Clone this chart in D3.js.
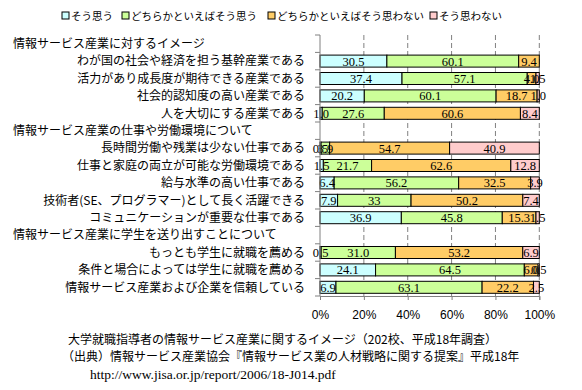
<!DOCTYPE html>
<html>
<head>
<meta charset="utf-8">
<script src="https://cdn.jsdelivr.net/npm/d3@7"></script>
<style>
  body { margin: 0; background: #fff; }
  text { font-family: "Noto Sans CJK JP", sans-serif; }
</style>
</head>
<body>
<div id="chart-container"></div>
<script>
// Categories (header rows have no values)
const categories = [
    "情報サービス産業に対するイメージ",
    "わが国の社会や経済を担う基幹産業である",
    "活力があり成長度が期待できる産業である",
    "社会的認知度の高い産業である",
    "人を大切にする産業である",
    "情報サービス産業の仕事や労働環境について",
    "長時間労働や残業は少ない仕事である",
    "仕事と家庭の両立が可能な労働環境である",
    "給与水準の高い仕事である",
    "技術者(SE、プログラマー)として長く活躍できる",
    "コミュニケーションが重要な仕事である",
    "情報サービス産業に学生を送り出すことについて",
    "もっとも学生に就職を薦める",
    "条件と場合によっては学生に就職を薦める",
    "情報サービス産業および企業を信頼している"
];
const headers = [0, 5, 11];

const seriesNames = ["そう思う", "どちらかといえばそう思う", "どちらかといえばそう思わない", "そう思わない"];
const colors = ["#CCFFFF", "#CCFF99", "#FFCC66", "#FFCCCC"];

// Values as printed on the picture (strings keep the printed format)
const agree       = [null, "30.5", "37.4", "20.2", "1.0", null, "0.5", "1.5", "6.4", "7.9", "36.9", null, "0.5", "24.1", "6.9"];
const ratherAgree = [null, "60.1", "57.1", "60.1", "27.6", null, "3.9", "21.7", "56.2", "33", "45.8", null, "31.0", "64.5", "63.1"];
const ratherNot   = [null, "9.4", "4.0", "18.7", "60.6", null, "54.7", "62.6", "32.5", "50.2", "15.3", null, "53.2", "6.0", "22.2"];
const disagree    = [null, "0", "1.5", "1.0", "8.4", null, "40.9", "12.8", "3.9", "7.4", "1.5", null, "6.9", "0.5", "2.5"];

const xTicks = [0, 0.2, 0.4, 0.6, 0.8, 1];

const width = 582, height = 390;
const plot = { left: 320, right: 539.3, top: 35, bottom: 296 };

const svg = d3.select("#chart-container")
    .append("svg")
    .attr("width", width)
    .attr("height", height);

// Table for stacking
const allSeries = [agree, ratherAgree, ratherNot, disagree];
const table = categories.map((c, i) => {
    const row = { cat: c };
    seriesNames.forEach((k, j) => { row[k] = allSeries[j][i] == null ? 0 : +allSeries[j][i]; row[k + "_t"] = allSeries[j][i]; });
    return row;
});

const stack = d3.stack().keys(seriesNames).offset(d3.stackOffsetExpand);
const stacked = stack(table);

const xScale = d3.scaleLinear().domain([0, 1]).range([plot.left, plot.right]);
const yScale = d3.scaleBand()
    .domain(categories)
    .range([plot.top, plot.bottom])
    .paddingInner(0.31)
    .paddingOuter(0.155);
const step = yScale.step();

// Dashed gridlines
svg.append("g")
    .selectAll("line")
    .data(xTicks.slice(1))
    .enter().append("line")
    .attr("x1", d => xScale(d))
    .attr("x2", d => xScale(d))
    .attr("y1", plot.top)
    .attr("y2", plot.bottom)
    .attr("stroke", "#808080")
    .attr("stroke-dasharray", "5,3");

// Bars
const layers = svg.append("g")
    .selectAll("g")
    .data(stacked)
    .enter().append("g")
    .attr("fill", (d, i) => colors[i]);

layers.selectAll("rect")
    .data(d => d.filter((p, i) => !headers.includes(i) && p[1] - p[0] > 0))
    .enter().append("rect")
    .attr("x", d => xScale(d[0]))
    .attr("y", d => yScale(d.data.cat))
    .attr("width", d => xScale(d[1]) - xScale(d[0]))
    .attr("height", yScale.bandwidth())
    .attr("stroke", "#000")
    .attr("stroke-width", 1);

// Value labels
stacked.forEach(layer => {
    svg.append("g")
        .selectAll("text")
        .data(layer.filter((p, i) => !headers.includes(i) && p[1] - p[0] > 0))
        .enter().append("text")
        .attr("x", d => xScale((d[0] + d[1]) / 2))
        .attr("y", d => yScale(d.data.cat) + yScale.bandwidth() / 2)
        .attr("dy", "0.36em")
        .attr("text-anchor", "middle")
        .style("font-family", "'Liberation Serif', serif")
        .style("font-size", "12.5px")
        .text(d => d.data[layer.key + "_t"]);
});

// Category axis (left)
const yAxis = svg.append("g").attr("stroke", "#808080");
yAxis.append("line")
    .attr("x1", plot.left).attr("x2", plot.left)
    .attr("y1", plot.top).attr("y2", plot.bottom);
yAxis.selectAll(".tk")
    .data(d3.range(categories.length + 1))
    .enter().append("line")
    .attr("x1", plot.left - 5).attr("x2", plot.left)
    .attr("y1", i => plot.top + i * step)
    .attr("y2", i => plot.top + i * step);

// Category labels
svg.append("g")
    .selectAll("text")
    .data(categories)
    .enter().append("text")
    .attr("x", (d, i) => headers.includes(i) ? 13 : 305)
    .attr("y", d => yScale(d) + yScale.bandwidth() / 2)
    .attr("dy", "0.36em")
    .attr("text-anchor", (d, i) => headers.includes(i) ? "start" : "end")
    .style("font-size", "12px")
    .text(d => d);

// Value axis (bottom)
const xAxis = d3.axisBottom(xScale)
    .tickValues(xTicks)
    .tickSize(4)
    .tickFormat(d3.format(".0%"));

const gx = svg.append("g")
    .attr("transform", `translate(0,${plot.bottom})`)
    .call(xAxis);
gx.select(".domain").attr("stroke", "#808080");
gx.selectAll(".tick line").attr("stroke", "#808080");
gx.selectAll(".tick text")
    .attr("y", 14)
    .style("font-family", "'Liberation Sans', sans-serif")
    .style("font-size", "12px")
    .attr("fill", "#000");

// Legend
const legendX = [62, 122, 268, 430];
const legend = svg.append("g")
    .selectAll("g")
    .data(seriesNames)
    .enter().append("g")
    .attr("transform", (d, i) => `translate(${legendX[i]},16)`);
legend.append("rect")
    .attr("x", 0).attr("y", -4)
    .attr("width", 7).attr("height", 7)
    .attr("fill", (d, i) => colors[i])
    .attr("stroke", "#000");
legend.append("text")
    .attr("x", 9)
    .attr("dy", "0.36em")
    .style("font-size", "10.5px")
    .text(d => d);

// Caption
const captions = [
    "大学就職指導者の情報サービス産業に関するイメージ（202校、平成18年調査）",
    "（出典）情報サービス産業協会『情報サービス業の人材戦略に関する提案』平成18年"
];
svg.append("g")
    .selectAll("text")
    .data(captions)
    .enter().append("text")
    .attr("x", (d, i) => i === 0 ? 68 : 62)
    .attr("y", (d, i) => 340 + i * 17)
    .attr("dy", "0.36em")
    .style("font-size", "12px")
    .text(d => d);
svg.append("text")
    .attr("x", 90)
    .attr("y", 374)
    .attr("dy", "0.36em")
    .style("font-family", "'Liberation Serif', serif")
    .style("font-size", "13.5px")
    .text("http://www.jisa.or.jp/report/2006/18-J014.pdf");
</script>
</body>
</html>
